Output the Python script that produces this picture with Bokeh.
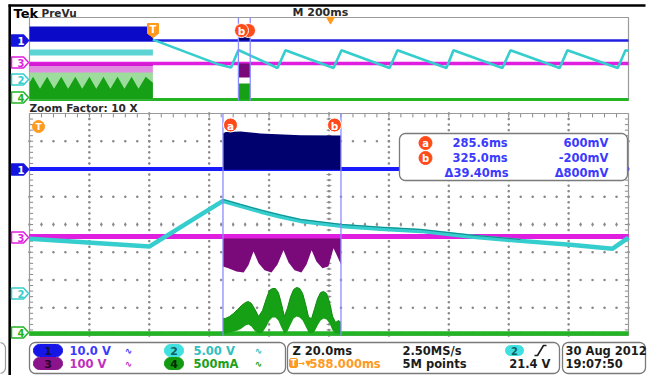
import numpy as np
from bokeh.plotting import figure
from bokeh.models import Range1d
from bokeh.embed import file_html
from bokeh.resources import INLINE
from bokeh.core.properties import value

# ---------------- data read from the screen ----------------
# zoom window (20 ms/div) and overview (200 ms/div), time in ms
zoom_t0, zoom_t1 = 221.0, 421.0
ov_t0, ov_t1 = -412.0, 1588.0
cursor_t = [285.6, 325.0]

ch_scale = {"1": 10.0, "2": 5.0, "3": 100.0, "4": 500.0}        # per division
zoom_offset = {"1": 2.0, "2": -2.49, "3": -0.43, "4": -3.93}    # ground, divisions
ov_offset = {"1": 1.78, "2": -2.49, "3": -0.43, "4": -3.9}

# zoom window traces
ch1_t = [285.6, 286.5, 291.5, 298.1, 311.5, 325.0]
ch1_top_v = [12.8, 13.3, 13.5, 12.8, 12.2, 12.1]

ch2_t = [221.0, 261.1, 285.6, 291.5, 298.1, 304.8, 311.5, 325.2, 338.2, 351.6,
         368.2, 384.9, 401.6, 415.7, 421.0]
ch2_v = [9.9, 8.5, 16.7, 15.8, 14.8, 13.9, 13.1, 12.2, 11.7, 11.3,
         10.3, 9.5, 8.8, 8.1, 10.1]

ch3_t = [285.6, 287.4, 290.1, 292.5, 294.1, 295.8, 297.5, 299.5, 301.8, 303.8,
         305.8, 307.5, 309.5, 311.8, 313.5, 315.2, 316.8, 318.8, 320.8, 322.5,
         323.8, 325.0]
ch3_low_v = [-108, -115, -126, -130, -104, -54, -97, -122, -130, -101,
             -50, -94, -122, -130, -101, -50, -90, -115, -108, -43,
             -72, -101]

ch4_t = [285.6, 286.4, 287.8, 289.1, 290.5, 291.8, 293.1, 294.1, 295.1, 296.1,
         297.5, 298.8, 300.1, 301.1, 302.1, 303.1, 304.1, 305.1, 306.1, 307.1,
         308.2, 309.2, 310.2, 311.2, 312.2, 313.2, 314.2, 315.2, 316.2, 317.2,
         318.2, 319.2, 320.2, 321.2, 322.2, 323.2, 324.2, 325.0]
ch4_top_ma = [272, 272, 308, 362, 434, 506, 560, 578, 542, 452,
              308, 416, 632, 776, 812, 812, 740, 542, 308, 452,
              668, 794, 831, 812, 722, 524, 290, 272, 452, 632,
              740, 758, 722, 560, 308, 200, 236, 200]
ch4_bot_ma = [0, 0, 20, 38, 56, 92, 146, 164, 128, 56,
              0, 20, 128, 236, 290, 290, 236, 110, 0, 38,
              164, 272, 308, 290, 236, 128, 20, 0, 38, 146,
              236, 272, 254, 182, 56, 0, 0, 0]

# overview traces
ov_pre_t = [-412.0, 0.0]
ov_ch1_pre_top = 13.5
ov_ch1_zoom_top = 3.5
ov_ch2_pre = (14.1, 17.0)
ov_ch2_t = [0, 221, 261, 285.6, 416, 442.7, 603, 629.7, 790, 816.7, 980, 1003.7,
            1167, 1194, 1358, 1384, 1552, 1578, 1588]
ov_ch2_v = [21.8, 9.75, 8.3, 16.8, 8.1, 16.7, 8.1, 16.7, 8.1, 16.7, 8.1, 16.7,
            8.1, 16.7, 8.1, 16.7, 8.1, 16.7, 16.4]
ov_ch3_pre = (5, -25, -95)
ov_ch3_zoom_low = -135
ov_ch4_t = [-412, -400, -377, -353, -330, -306, -283, -259, -236, -212, -189,
            -165, -142, -118, -95, -71, -48, -24, 0]
ov_ch4_ma = [800, 1100, 520, 1100, 520, 1100, 520, 1100, 520, 1100, 520,
             1100, 520, 1100, 520, 1100, 520, 1100, 800]
ov_ch4_pale = 1300
ov_ch4_zoom_top = 770

# texts
readout_rows = [("a", "285.6ms", "600mV"), ("b", "325.0ms", "-200mV"),
                ("", "\u039439.40ms", "\u0394800mV")]

# ---------------- colours ----------------
BLUE = "#1a1aff"
NAVY = "#00006e"
OVNAVY = "#0a0ac8"
CYAN = "#35cdcd"
MAGENTA = "#e01ee0"
PURPLE = "#7a0a7a"
GREEN = "#22b422"
DKGREEN = "#15a015"
CURSOR = "#8c8cff"
ORANGE = "#ff9a1f"
RED = "#ff4a1a"
READ = "#3b3bff"
GRAY = "#8a8a8a"
INK = "#1c1c1c"
FONT = value("DejaVu Sans")

# ---------------- figure geometry (screen pixels) ----------------
X0, X1, Y0, Y1 = 0, 651, 0, 375
GL, GR = 29, 628          # graticule left / right
MT, MB = 113, 335         # zoom graticule top / bottom
OT, OB = 17, 100          # overview graticule top / bottom

p = figure(width=X1 - X0, height=Y1 - Y0, x_range=Range1d(X0, X1),
           y_range=Range1d(Y1, Y0), output_backend="svg", toolbar_location=None,
           min_border=0, x_axis_location=None, y_axis_location=None,
           background_fill_color="white", border_fill_color="white",
           outline_line_color=None)
p.xgrid.visible = False
p.ygrid.visible = False


def xr(t0, t1):
    k = (t1 - t0) / (GR - GL)
    return Range1d(t0 - (GL - X0) * k, t1 + (X1 - GR) * k)


def yr(top, bot):
    k = 8.0 / (bot - top)
    return Range1d(-4 - (Y1 - bot) * k, 4 + (top - Y0) * k)


p.extra_x_ranges = {"zt": xr(zoom_t0, zoom_t1), "ot": xr(ov_t0, ov_t1)}
p.extra_y_ranges = {"zd": yr(MT, MB), "od": yr(OT, OB)}
Z = dict(x_range_name="zt", y_range_name="zd")
O = dict(x_range_name="ot", y_range_name="od")


def zdiv(vals, ch):
    return [zoom_offset[ch] + v / ch_scale[ch] for v in vals]


def odiv(vals, ch):
    return [ov_offset[ch] + v / ch_scale[ch] for v in vals]


def rrect(x0, y0, x1, y1, r, n=7):
    xs, ys = [], []
    for cx, cy, a0, a1 in [(x1 - r, y0 + r, -90, 0), (x1 - r, y1 - r, 0, 90),
                           (x0 + r, y1 - r, 90, 180), (x0 + r, y0 + r, 180, 270)]:
        for a in np.radians(np.linspace(a0, a1, n)):
            xs.append(cx + r * np.cos(a))
            ys.append(cy + r * np.sin(a))
    return xs, ys


def txt(x, y, s, color=INK, size="11.5px", align="left", bold=True):
    p.text(x=[x], y=[y], text=[s], text_color=color, text_font=FONT,
           text_font_size=size, text_font_style="bold" if bold else "normal",
           text_align=align, text_baseline="middle")


# ---------------- frame lines ----------------
p.segment(x0=[8], y0=[5], x1=[645], y1=[5], line_color="black", line_width=2.6)
p.segment(x0=[9.2], y0=[4], x1=[9.2], y1=[Y1], line_color="black", line_width=2.6)
bx, by = rrect(-20, 342, 5, 373, 6)
p.patch(bx, by, fill_color=None, line_color="#9a9a9a", line_width=1.2)

# ---------------- zoom graticule ----------------
vt = [zoom_t0 + 20 * i for i in range(1, 10)]
dots = np.arange(-4, 4.001, 0.2)
gx = [t for t in vt for _ in dots]
gy = [d for _ in vt for d in dots]
hts = np.arange(zoom_t0, zoom_t1 + 0.01, 4)
gx += [t for d in range(-3, 4) for t in hts]
gy += [d for d in range(-3, 4) for t in hts]
p.scatter(gx, gy, marker="square", size=1.4, color=GRAY, **Z)

tk = np.arange(zoom_t0 + 4, zoom_t1 - 1, 4)
dk = np.arange(-3.8, 3.81, 0.2)
segs = []
for t in tk:
    segs += [(t, 4, t, 3.86), (t, -4, t, -3.86), (t, 0.07, t, -0.07)]
for d in dk:
    segs += [(zoom_t0, d, zoom_t0 + 1.2, d), (zoom_t1, d, zoom_t1 - 1.2, d),
             (321 - 0.8, d, 321 + 0.8, d)]
s0, s1, s2, s3 = zip(*segs)
p.segment(x0=s0, y0=s1, x1=s2, y1=s3, line_color=GRAY, line_width=1, **Z)
p.quad(left=[zoom_t0], right=[zoom_t1], bottom=[-4], top=[4], fill_color=None,
       line_color="#9a9a9a", line_width=1.2, **Z)

# ---------------- zoom traces ----------------
p.line([zoom_t0, zoom_t1], zdiv([0, 0], "3"), line_color=MAGENTA, line_width=5, **Z)
p.varea(x=ch3_t, y1=zdiv([0] * len(ch3_t), "3"), y2=zdiv(ch3_low_v, "3"),
        fill_color=PURPLE, **Z)
p.line([zoom_t0, zoom_t1], zdiv([0, 0], "3"), line_color=MAGENTA, line_width=4, **Z)

p.line([zoom_t0, zoom_t1], zdiv([0, 0], "4"), line_color=GREEN, line_width=4.5, **Z)
p.varea(x=ch4_t, y1=zdiv(ch4_bot_ma, "4"), y2=zdiv(ch4_top_ma, "4"),
        fill_color=DKGREEN, **Z)
p.line(ch4_t, zdiv(ch4_top_ma, "4"), line_color="#0e8a0e", line_width=1, **Z)

p.line([zoom_t0, zoom_t1], zdiv([0, 0], "1"), line_color=BLUE, line_width=4, **Z)
p.varea(x=ch1_t, y1=zdiv([-0.3] * len(ch1_t), "1"), y2=zdiv(ch1_top_v, "1"),
        fill_color=NAVY, **Z)

p.line(ch2_t, zdiv(ch2_v, "2"), line_color=CYAN, line_width=4.5, **Z)
p.line(ch2_t[2:12], zdiv([v + 0.25 for v in ch2_v[2:12]], "2"), line_color="#138a8a",
       line_width=1, **Z)

p.segment(x0=cursor_t, y0=[-4, -4], x1=cursor_t, y1=[4, 4], line_color=CURSOR,
          line_width=1.3, **Z)

# ---------------- overview ----------------
p.quad(left=[ov_t0], right=[ov_t1], bottom=[-4], top=[4], fill_color=None,
       line_color="#9a9a9a", line_width=1.2, **O)

p.line([ov_t0, ov_t1], odiv([0, 0], "3"), line_color=MAGENTA, line_width=3.5, **O)
p.varea(x=ov_pre_t, y1=odiv([ov_ch3_pre[1]] * 2, "3"), y2=odiv([ov_ch3_pre[2]] * 2, "3"),
        fill_color="#e08ce0", **O)
p.varea(x=ov_pre_t, y1=odiv([ov_ch3_pre[0]] * 2, "3"), y2=odiv([ov_ch3_pre[1]] * 2, "3"),
        fill_color="#d41cd4", **O)
p.varea(x=cursor_t, y1=odiv([0, 0], "3"), y2=odiv([ov_ch3_zoom_low] * 2, "3"),
        fill_color=PURPLE, **O)

p.line([ov_t0, ov_t1], odiv([0, 0], "4"), line_color=GREEN, line_width=3, **O)
p.varea(x=ov_pre_t, y1=odiv([0, 0], "4"), y2=odiv([ov_ch4_pale] * 2, "4"),
        fill_color="#9edc9e", **O)
p.varea(x=ov_ch4_t, y1=odiv([0] * len(ov_ch4_t), "4"), y2=odiv(ov_ch4_ma, "4"),
        fill_color=DKGREEN, **O)
p.varea(x=cursor_t, y1=odiv([0, 0], "4"), y2=odiv([ov_ch4_zoom_top] * 2, "4"),
        fill_color=DKGREEN, **O)

p.line([ov_t0, ov_t1], odiv([0, 0], "1"), line_color="#2020e0", line_width=2.6, **O)
p.varea(x=ov_pre_t, y1=odiv([-0.4] * 2, "1"), y2=odiv([ov_ch1_pre_top] * 2, "1"),
        fill_color=OVNAVY, **O)
p.varea(x=cursor_t, y1=odiv([0, 0], "1"), y2=odiv([ov_ch1_zoom_top] * 2, "1"),
        fill_color=NAVY, **O)

p.varea(x=ov_pre_t, y1=odiv([ov_ch2_pre[0]] * 2, "2"), y2=odiv([ov_ch2_pre[1]] * 2, "2"),
        fill_color="#5cd4d4", **O)
p.line(ov_ch2_t, odiv(ov_ch2_v, "2"), line_color=CYAN, line_width=2.6, **O)

p.segment(x0=cursor_t, y0=[-4, -4], x1=cursor_t, y1=[4, 4], line_color=CURSOR,
          line_width=1.3, **O)


# ---------------- channel markers ----------------
def tag(y, label, filled, color):
    xs = [11, 23, 28, 23, 11]
    ys = [y - 5.5, y - 5.5, y, y + 5.5, y + 5.5]
    p.patch(xs, ys, fill_color=color if filled else "white", line_color=color,
            line_width=1.5)
    txt(17, y + 0.5, label, color="white" if filled else color, size="10px")


for y, lab, col, fil in [(40, "1", "#1515e0", True), (62, "3", MAGENTA, False),
                         (79, "2", CYAN, False), (97, "4", GREEN, False),
                         (169, "1", "#1515e0", True), (237, "3", MAGENTA, False),
                         (293, "2", CYAN, False), (332, "4", GREEN, False)]:
    tag(y, lab, fil, col)

# ---------------- cursor & trigger labels ----------------
p.scatter([248, 241, 230, 334], [30, 30, 124.5, 124.5], marker="circle", size=14,
          fill_color=RED, line_color="white", line_width=1)
for x, y, s in [(241, 30, "b"), (230, 124.5, "a"), (334, 124.5, "b")]:
    txt(x, y + 0.5, s, color="white", size="10.5px", align="center")

p.patch([147, 158, 158, 152.5, 147], [23, 23, 33, 37, 33], fill_color=ORANGE,
        line_color=ORANGE)
txt(152.5, 29, "T", color="white", size="10px", align="center")
p.scatter([38], [126], marker="circle", size=12, fill_color=ORANGE, line_color=ORANGE)
txt(38, 126.5, "T", color="white", size="9px", align="center")
p.scatter([330], [19], marker="inverted_triangle", size=8, fill_color=ORANGE,
          line_color=ORANGE)

# ---------------- header texts ----------------
txt(13, 12.5, "Tek", color="black", size="13px")
txt(41, 12, "PreVu", color="#2a2a2a", size="10.5px")
txt(292, 12, "M 200ms", color="#2a2a2a", size="11px")
txt(29, 107, "Zoom Factor: 10 X", color="#2a2a2a", size="10.5px")

# ---------------- cursor readout ----------------
bx, by = rrect(399, 133, 627, 180, 6)
p.patch(bx, by, fill_color="white", line_color="#7a7a7a", line_width=1.3)
for (c, tt, vv), y in zip(readout_rows, [142.5, 157.5, 172]):
    if c:
        p.scatter([425], [y], marker="circle", size=13, fill_color=RED, line_color=RED)
        txt(425, y + 0.5, c, color="white", size="10px", align="center")
    txt(452 if c else 444, y, tt, color=READ, size="11.5px")
    txt(608, y, vv, color=READ, size="11.5px", align="right")

# ---------------- bottom status boxes ----------------
for x0, x1 in [(29, 285), (287, 559), (562, 645)]:
    bx, by = rrect(x0, 342, x1, 373, 6)
    p.patch(bx, by, fill_color="white", line_color="#7a7a7a", line_width=1.3)

pill_specs = [("1", 33, 62, 350, "#1515e8", "#10104a", "10.0 V", READ),
              ("3", 33, 62, 363, "#8a128a", "#2a002a", "100 V", "#c030c0"),
              ("2", 164, 183, 350, "#40e0e0", "#106060", "5.00 V", "#30c0c0"),
              ("4", 164, 183, 363, "#139a13", "#002a00", "500mA", "#20a020")]
for lab, x0, x1, y, fc, tc, s, sc in pill_specs:
    bx, by = rrect(x0, y - 6, x1, y + 6, 5.9)
    p.patch(bx, by, fill_color=fc, line_color=fc)
    txt((x0 + x1) / 2, y + 0.5, lab, color=tc, size="11px", align="center")
    txt(x1 + 7 + (0 if x0 < 100 else 3), y, s, color=sc, size="11.5px")
    txt(x1 + 66 if x0 < 100 else x1 + 75, y, "\u223f", color=sc, size="9px", align="center")

txt(292, 350, "Z 20.0ms", size="11.5px")
txt(402, 350, "2.50MS/s", size="11.5px")
bx, by = rrect(505, 345, 523, 355, 5)
p.patch(bx, by, fill_color="#40e0e0", line_color="#40e0e0")
txt(514, 350.5, "2", color="#106060", size="10px", align="center")
p.line([534, 537, 543, 546], [355, 355, 345, 345], line_color=INK, line_width=1.6)
bx, by = rrect(289, 358, 297, 367, 1.5)
p.patch(bx, by, fill_color=ORANGE, line_color=ORANGE)
txt(293, 362.5, "T", color="white", size="8px", align="center")
txt(298, 362.5, "\u2192\u25bc", color=ORANGE, size="8px")
txt(309, 363, "588.000ms", color=ORANGE, size="11.5px")
txt(402, 363, "5M points", size="11.5px")
txt(550, 363, "21.4 V", size="11.5px", align="right")
txt(565, 350, "30 Aug 2012", size="11.5px")
txt(565, 363, "19:07:50", size="11.5px")

open("out.html", "w").write(file_html(p, INLINE))
